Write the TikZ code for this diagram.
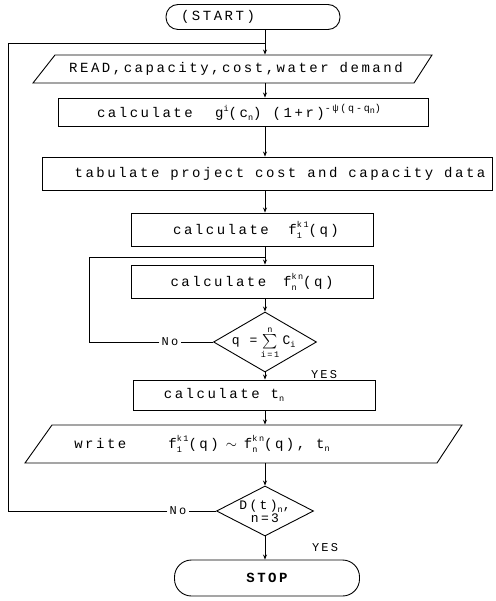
\documentclass[tikz,border=0pt]{standalone}
\usepackage{amsmath}
\usepackage{fontspec}
\newfontfamily\tw[LetterSpace=18]{Liberation Mono}
\newcommand\scr{\fontsize{8.5}{9}\tw}
\newcommand\bscr{\fontsize{10}{10}\tw}
\newcommand\subsup[2]{\rlap{\raisebox{-4pt}{\scr #1}}\raisebox{7pt}{\scr #2}}
\newcommand\dn[1]{\raisebox{-3pt}{\scr #1}}
\newcommand\up[1]{\raisebox{6pt}{\scr #1}}
\usetikzlibrary{arrows.meta,shapes.geometric}
\begin{document}
\begin{tikzpicture}[x=1pt,y=-1pt,
  line width=0.9pt,
  every node/.style={font=\fontsize{14}{16}\tw, inner sep=0pt},
  box/.style={draw, rectangle},
  arr/.style={-{Stealth[length=5pt,width=4pt]}},
  term/.style={draw, rectangle, rounded corners=12pt},
  dia/.style={draw, diamond},
  lbl/.style={font=\fontsize{12}{14}\tw, inner sep=2pt},
  dtxt/.style={font=\fontsize{13}{14}\tw}]
\useasboundingbox (0,0) rectangle (495,601);
\coordinate (mainx) at (265,0);
% nodes
\node[term, minimum width=174, minimum height=25] (start) at (253,17) {(START)\hspace*{70pt}};
\node[minimum width=380, minimum height=28] (read) at (236,69) {READ,capacity,cost,water demand};
\draw (55,55) -- (432,55) -- (414,83) -- (33,83) -- cycle;
\node[box, minimum width=370, minimum height=28] (calc) at (243,112)
  {calculate\hspace{1.6em}g\up{i}(c\dn{n})\hspace{0.8em}(1+r)\raisebox{6pt}{\bscr -ψ(q-q\raisebox{-2.5pt}{\scr n})}\hspace*{8pt}};
\node[box, minimum width=450, minimum height=33] (tab) at (267,173.5)
  {\hspace*{26pt}tabulate project cost and capacity data};
\node[box, minimum width=242, minimum height=33] (f1) at (252,229.5)
  {\hspace*{8pt}calculate\hspace{1.4em}f\subsup{1}{k1}(q)};
\node[box, minimum width=242, minimum height=33] (fn) at (252,281.5)
  {calculate\hspace{1.2em}f\subsup{n}{kn}(q)};
\node[dia, minimum width=103, minimum height=60] (d1) at (265,342) {};
\node (sig) at (270,342) {$\sum$};
\node[dtxt, anchor=east] (d1q) at ([xshift=-4pt]sig.west) {q =};
\node[dtxt, anchor=west] (d1c) at ([xshift=4pt]sig.east) {C\dn{i}};
\node[font=\scr, anchor=south] (d1n) at ([yshift=1.5pt]sig.north) {n};
\node[font=\scr, anchor=north] (d1i) at ([yshift=-1.5pt]sig.south) {i=1};
\node[box, minimum width=242, minimum height=30] (tn) at (254,395)
  {calculate t\dn{n}\hspace*{60pt}};
\node[minimum width=390, minimum height=38] (write) at (244,444) {};
\draw (52,425) -- (462,425) -- (437,463) -- (25,463) -- cycle;
\node (writet) at (202,444)
  {write\hspace{3em}f\subsup{1}{k1}(q)\hspace{0.5em}$\sim$\hspace{0.5em}f\subsup{n}{kn}(q), t\dn{n}};
\node[dia, minimum width=97, minimum height=50,
  label={[align=center, dtxt]center:D(t)\dn{n},\\[-1pt]n=3}] (d2) at (265,511) {};
\node[term, rounded corners=17pt, minimum width=185, minimum height=36,
  font=\fontsize{14}{16}\tw\bfseries] (stop) at (267,578) {STOP};
% labels
\node[lbl] (no1) at (170,342) {No};
\node[lbl] (no2) at (178,511) {No};
\node[lbl] (yes1) at (324,375) {YES};
\node[lbl] (yes2) at (325,548) {YES};
\coordinate (j1) at (265,43);
\coordinate (j2) at (265,257);
\coordinate (c1) at (89,342);
\coordinate (c2) at (89,257);
\coordinate (c3) at (8,511);
\coordinate (c4) at (8,43);
% connectors
\draw[arr] (start.south -| mainx) -- (read.north -| mainx);
\draw[arr] (read.south -| mainx) -- (calc.north -| mainx);
\draw[arr] (calc.south -| mainx) -- (tab.north -| mainx);
\draw[arr] (tab.south -| mainx) -- (f1.north -| mainx);
\draw[arr] (f1.south -| mainx) -- (fn.north -| mainx);
\draw[arr] (fn.south -| mainx) -- (d1.north);
\draw[arr] (d1.south) -- (tn.north -| mainx);
\draw[arr] (tn.south -| mainx) -- (write.north -| mainx);
\draw[arr] (write.south -| mainx) -- (d2.north);
\draw[arr] (d2.south) -- (stop.north -| mainx);
\draw (d1.west) -- (no1.east);
\draw (no1.west) -- (c1) -- (c2) -- (j2);
\draw (d2.west) -- (no2.east);
\draw (no2.west) -- (c3) -- (c4) -- (j1);
\end{tikzpicture}
\end{document}
